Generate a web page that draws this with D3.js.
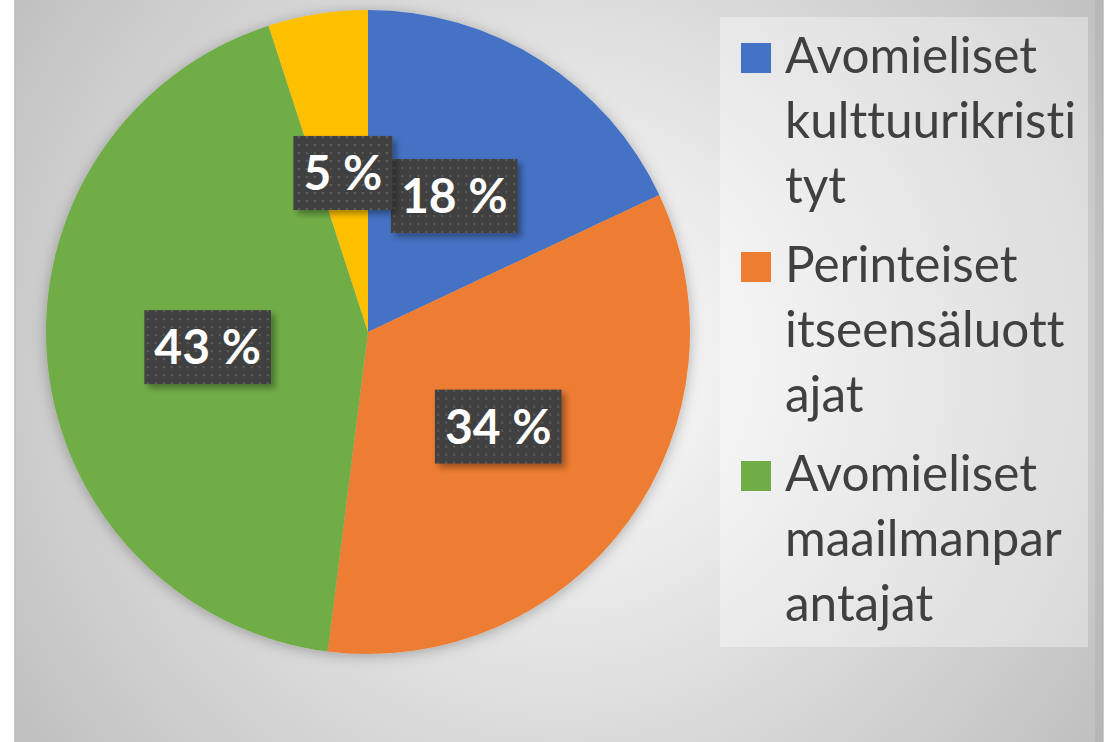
<!DOCTYPE html>
<html>
<head>
<meta charset="utf-8">
<script src="https://cdn.jsdelivr.net/npm/d3@7"></script>
<style>
  body { margin: 0; background: #ffffff; }
  svg { display: block; }
  text { font-variant-ligatures: none; font-feature-settings: "liga" 0, "clig" 0; }
</style>
</head>
<body>
<svg id="chart" width="1106" height="742"></svg>
<script>
// ================================
// data
const categories = [
  "Avomieliset kulttuurikristityt",
  "Perinteiset itseensäluottajat",
  "Avomieliset maailmanparantajat",
  "Muut"
];
const values = [ 18, 34, 43, 5 ]; // percent, clockwise from 12 o'clock
const labels = [ "18 %", "34 %", "43 %", "5 %" ];
// legend rows as wrapped in the picture (last slice has no legend entry)
const legendLines = [
  [ "Avomieliset", "kulttuurikristi", "tyt" ],
  [ "Perinteiset", "itseensäluott", "ajat" ],
  [ "Avomieliset", "maailmanpar", "antajat" ]
];
const colors = [ "#4472c4", "#ed7d31", "#70ad47", "#ffc000" ];
// ================================

const svg = d3.select( "#chart" );
const defs = svg.append( "defs" );

// background radial gradient
const bg = defs.append( "radialGradient" )
  .attr( "id", "bgGrad" )
  .attr( "gradientUnits", "userSpaceOnUse" )
  .attr( "cx", 560 ).attr( "cy", 360 ).attr( "r", 700 );
bg.append( "stop" ).attr( "offset", "0%" ).attr( "stop-color", "#ffffff" );
bg.append( "stop" ).attr( "offset", "100%" ).attr( "stop-color", "#bcbcbc" );

// soft glow under the pie
const pieShadow = defs.append( "filter" ).attr( "id", "pieShadow" )
  .attr( "x", "-20%" ).attr( "y", "-20%" ).attr( "width", "140%" ).attr( "height", "140%" );
pieShadow.append( "feDropShadow" )
  .attr( "dx", 0 ).attr( "dy", 2 ).attr( "stdDeviation", 7 )
  .attr( "flood-color", "#000" ).attr( "flood-opacity", 0.28 );

// shadow for label boxes
const boxShadow = defs.append( "filter" ).attr( "id", "boxShadow" )
  .attr( "x", "-20%" ).attr( "y", "-20%" ).attr( "width", "150%" ).attr( "height", "150%" );
boxShadow.append( "feDropShadow" )
  .attr( "dx", 4 ).attr( "dy", 4 ).attr( "stdDeviation", 3 )
  .attr( "flood-color", "#000" ).attr( "flood-opacity", 0.35 );

// dotted fill of label boxes
const dots = defs.append( "pattern" )
  .attr( "id", "dots" )
  .attr( "patternUnits", "userSpaceOnUse" )
  .attr( "width", 8 ).attr( "height", 8 );
dots.append( "rect" ).attr( "width", 8 ).attr( "height", 8 ).attr( "fill", "#404040" );
dots.append( "rect" ).attr( "x", 3 ).attr( "y", 3 ).attr( "width", 2 ).attr( "height", 2 ).attr( "fill", "#5c5c5c" );

// chart area
svg.append( "rect" )
  .attr( "x", 15 ).attr( "y", -2 )
  .attr( "width", 1088 ).attr( "height", 746 )
  .attr( "fill", "url(#bgGrad)" )
  .attr( "stroke", "#bdbdbd" )
  .attr( "stroke-width", 1.5 );
svg.append( "rect" ) // darker strip on the right edge
  .attr( "x", 1095 ).attr( "y", -2 )
  .attr( "width", 8 ).attr( "height", 746 )
  .attr( "fill", "#000" ).attr( "opacity", 0.05 );

// ---- pie ----
const cx = 368, cy = 332, radius = 322;

const pie = d3.pie().sort( null ).value( d => d );
const arcs = pie( values );
const arc = d3.arc().innerRadius( 0 ).outerRadius( radius );

const pieGroup = svg.append( "g" ).attr( "transform", `translate(${cx},${cy})` );

pieGroup.append( "g" )
  .attr( "filter", "url(#pieShadow)" )
  .selectAll( "path" )
  .data( arcs )
  .enter()
  .append( "path" )
  .attr( "d", arc )
  .attr( "fill", ( d, i ) => colors[ i ] );

// ---- data labels ----
const labelGroup = pieGroup.selectAll( ".lbl" )
  .data( arcs )
  .enter()
  .append( "g" )
  .attr( "class", "lbl" )
  .attr( "transform", d => `translate(${arc.centroid( d )})` );

const boxes = labelGroup.append( "rect" )
  .attr( "fill", "url(#dots)" )
  .attr( "filter", "url(#boxShadow)" );

const labelTexts = labelGroup.append( "text" )
  .attr( "text-anchor", "middle" )
  .attr( "dy", "0.36em" )
  .attr( "fill", "#ffffff" )
  .attr( "font-family", "Lato, 'Open Sans', sans-serif" )
  .attr( "font-weight", "bold" )
  .attr( "font-size", 48 )
  .text( ( d, i ) => labels[ i ] );

labelTexts.each( function () {
  const w = this.getComputedTextLength();
  d3.select( this.parentNode ).select( "rect" )
    .attr( "x", -w / 2 - 10 )
    .attr( "y", -37 )
    .attr( "width", w + 20 )
    .attr( "height", 74 );
} );

// ---- legend ----
const legend = svg.append( "g" );
legend.append( "rect" )
  .attr( "x", 720 ).attr( "y", 17 )
  .attr( "width", 368 ).attr( "height", 630 )
  .attr( "fill", "#ffffff" ).attr( "opacity", 0.35 );

const firstBaseline = 73, itemStep = 209, lineStep = 65;

const items = legend.selectAll( ".item" )
  .data( legendLines )
  .enter()
  .append( "g" )
  .attr( "class", "item" )
  .attr( "transform", ( d, i ) => `translate(0,${firstBaseline + i * itemStep})` );

items.append( "rect" )
  .attr( "x", 741 ).attr( "y", -30 )
  .attr( "width", 30 ).attr( "height", 30 )
  .attr( "fill", ( d, i ) => colors[ i ] );

items.append( "text" )
  .attr( "font-family", "Lato, 'Open Sans', sans-serif" )
  .attr( "font-size", 49.5 )
  .attr( "fill", "#404040" )
  .selectAll( "tspan" )
  .data( d => d )
  .enter()
  .append( "tspan" )
  .attr( "x", 785 )
  .attr( "y", ( d, j ) => j * lineStep )
  .text( d => d );
</script>
</body>
</html>
